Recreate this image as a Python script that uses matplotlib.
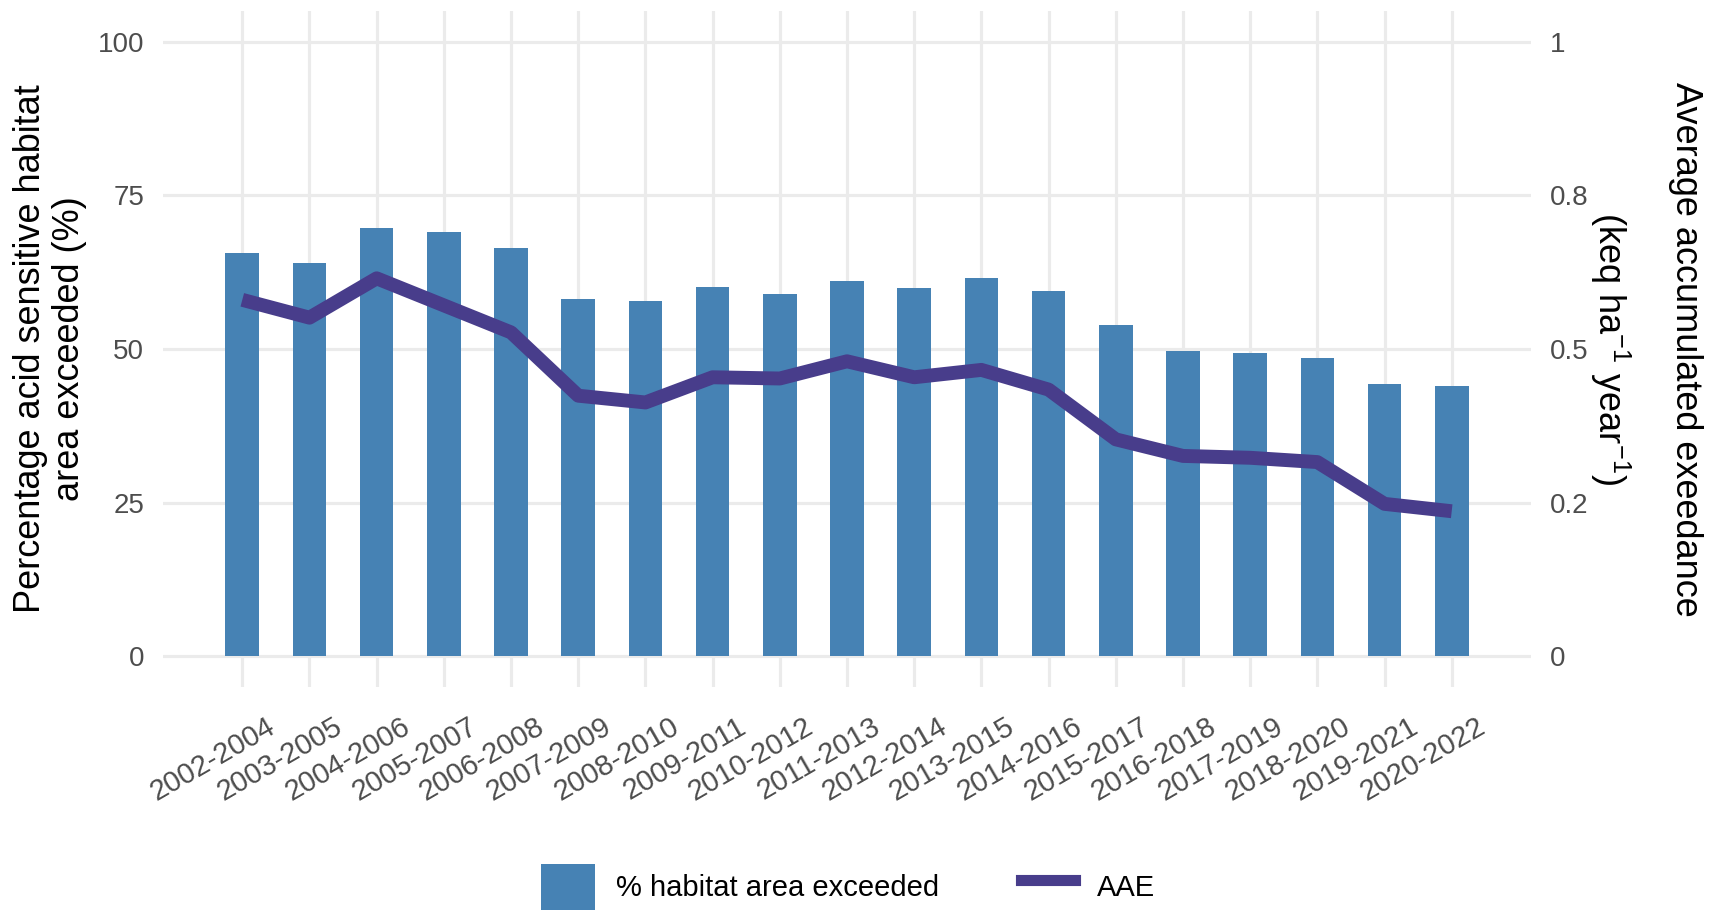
import matplotlib
matplotlib.use("Agg")
import matplotlib.pyplot as plt
import matplotlib.transforms as mtransforms
from matplotlib.patches import Patch
from matplotlib.lines import Line2D

plt.rcParams['font.family'] = ['Liberation Sans', 'DejaVu Sans']
plt.rcParams['mathtext.fontset'] = 'custom'
plt.rcParams['mathtext.rm'] = 'Liberation Sans'
plt.rcParams['mathtext.it'] = 'Liberation Sans'

periods = ["2002-2004", "2003-2005", "2004-2006", "2005-2007", "2006-2008",
           "2007-2009", "2008-2010", "2009-2011", "2010-2012", "2011-2013",
           "2012-2014", "2013-2015", "2014-2016", "2015-2017", "2016-2018",
           "2017-2019", "2018-2020", "2019-2021", "2020-2022"]
pct_exceeded = [65.6, 64.0, 69.7, 69.1, 66.5, 58.2, 57.8, 60.1, 59.0, 61.0,
                59.9, 61.5, 59.4, 53.9, 49.6, 49.3, 48.6, 44.3, 44.0]
aae = [0.580, 0.551, 0.615, 0.571, 0.527, 0.424, 0.413, 0.454, 0.452, 0.480,
       0.454, 0.466, 0.434, 0.353, 0.326, 0.323, 0.316, 0.248, 0.236]
left_ticks = [0, 25, 50, 75, 100]
right_ticks = [0, 0.25, 0.5, 0.75, 1.0]
right_tick_labels = ["0", "0.2", "0.5", "0.8", "1"]

bar_color = "#4682B4"
line_color = "#483D8B"
grid_color = "#EBEBEB"
tick_color = "#4D4D4D"
scale = 100.0

fig = plt.figure(figsize=(17.13, 9.13), dpi=100)
ax = fig.add_axes([163/1713, 1-687/913, (1531-163)/1713, (687-11)/913])

x = list(range(len(periods)))
ax.bar(x, pct_exceeded, width=0.5, color=bar_color, zorder=2)
ax.plot(x, [v*scale for v in aae], color=line_color, lw=10,
        solid_joinstyle='round', solid_capstyle='butt', zorder=3)

ax.set_xlim(-1.18, len(periods) - 1 + 1.18)
ax.set_ylim(-5, 105)
ax.set_yticks(left_ticks)
ax.set_xticks(x)
ax.set_xticklabels(periods, rotation=30, ha='right', va='top',
                   rotation_mode='anchor')
ax.grid(True, color=grid_color, lw=2.3, zorder=0)
ax.set_axisbelow(True)
for s in ax.spines.values():
    s.set_visible(False)
ax.tick_params(axis='y', length=0, pad=13.5, labelsize=20, labelcolor=tick_color)
ax.tick_params(axis='x', length=0, pad=18.5, labelsize=21, labelcolor=tick_color)
offset = mtransforms.ScaledTranslation(24/100, 0, fig.dpi_scale_trans)
for lab in ax.get_xticklabels():
    lab.set_transform(lab.get_transform() + offset)

ax.set_ylabel("Percentage acid sensitive habitat\narea exceeded (%)",
              fontsize=26, color='black', linespacing=1.12,
              ha='center', va='center')
ax.yaxis.set_label_coords((50-163)/1368, 0.5)

ax2 = ax.twinx()
ax2.set_ylim(-0.05, 1.05)
ax2.set_yticks(right_ticks)
ax2.set_yticklabels(right_tick_labels)
for s in ax2.spines.values():
    s.set_visible(False)
ax2.tick_params(axis='y', length=0, pad=13.5, labelsize=20, labelcolor=tick_color)
ax2.set_ylabel("Average accumulated exeedance",
               fontsize=26, color='black', rotation=270, va='center',
               ha='center')
ax2.yaxis.set_label_coords((1686-163)/1368, 0.5)
ax2.text((1610-163)/1368, 0.5, "(keq ha$^{-1}$ year$^{-1}$)",
         transform=ax2.transAxes, fontsize=26, color='black', rotation=270,
         ha='center', va='center')

handles = [Patch(facecolor=bar_color, edgecolor='none'),
           Line2D([0], [0], color=line_color, lw=8)]
fig.legend(handles, ["% habitat area exceeded", "AAE"], loc='center',
           bbox_to_anchor=(0.495, 1-887/913), ncol=2, frameon=False,
           fontsize=21, handlelength=1.85, handleheight=2.0,
           handletextpad=0.75, columnspacing=2.8, borderpad=0)

fig.savefig("out.png", dpi=100)
